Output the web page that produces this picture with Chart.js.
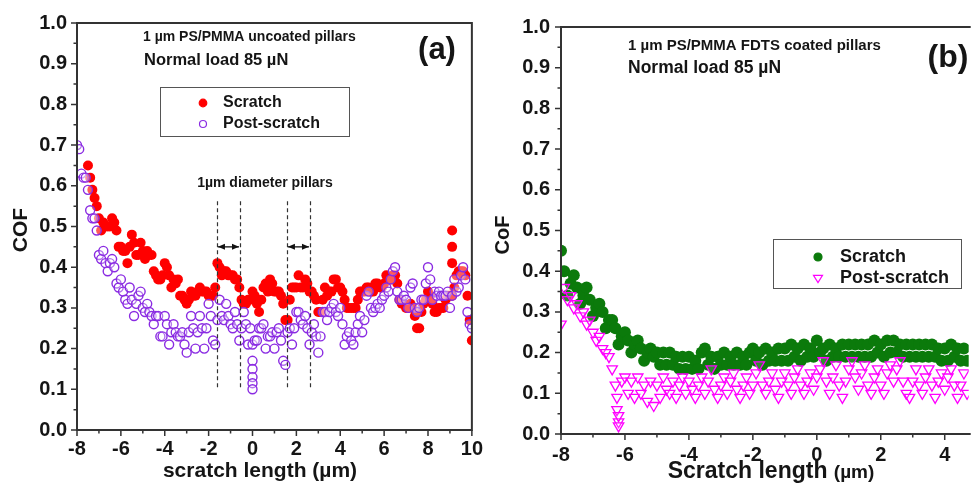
<!DOCTYPE html>
<html>
<head>
<meta charset="utf-8">
<script src="https://cdn.jsdelivr.net/npm/chart.js@4.4.1/dist/chart.umd.min.js"></script>
<style>
  html, body { margin: 0; padding: 0; background: #fff; overflow: hidden; }
  #boxA { position: absolute; left: 0; top: 0; width: 490px; height: 486px; }
  #boxB { position: absolute; left: 490px; top: 0; width: 486px; height: 486px; }
</style>
</head>
<body>
<div id="boxA"><canvas id="chartA"></canvas></div>
<div id="boxB"><canvas id="chartB"></canvas></div>
<script>
// ---- panel (a): uncoated pillars, x step 0.1 um ----
const stepA = 0.1;
const scratchStartA = -7.5;
const scratchA = [
  0.65,0.62,0.59,0.57,0.55,0.52,0.49,0.51,0.50,0.50,
  0.50,0.52,0.51,0.49,0.45,0.45,0.44,0.44,0.41,0.45,
  0.48,0.46,0.43,0.43,0.46,0.44,0.42,0.44,0.43,0.43,
  0.39,0.38,0.37,0.37,0.38,0.41,0.40,0.38,0.35,0.37,
  0.36,0.37,0.33,0.33,0.32,0.31,0.32,0.34,0.33,0.33,
  0.34,0.35,0.34,0.34,0.34,0.33,0.33,0.33,0.35,0.41,
  0.40,0.38,0.39,0.39,0.38,0.38,0.38,0.37,0.37,0.35,
  0.32,0.31,0.31,0.32,0.32,0.34,0.33,0.31,0.29,0.32,
  0.35,0.36,0.34,0.37,0.36,0.34,0.34,0.34,0.33,0.31,
  0.27,0.27,0.32,0.35,0.35,0.35,0.38,0.35,0.35,0.37,
  0.36,0.34,0.34,0.33,0.32,0.29,0.29,0.32,0.35,0.33,
  0.34,0.34,0.37,0.37,0.35,0.35,0.34,0.32,0.30,0.30,
  0.30,0.30,0.30,0.32,0.34,0.34,0.34,0.35,0.35,0.34,
  0.34,0.36,0.36,0.35,0.35,0.36,0.38,0.37,0.37,0.38,
  0.38,0.36,0.32,0.31,0.31,0.30,0.30,0.31,0.30,0.28,
  0.25,0.25,0.29,0.31,0.32,0.34,0.33,0.31,0.29,0.29,
  0.30,0.30,0.30,0.32,0.33,0.33,0.33,0.35,0.38,0.39,
  0.39,0.39,0.38,0.33,0.27,0.22
];
const scratchExtraXA = [9.1, 9.1, 9.1];
const scratchExtraYA = [0.49, 0.45, 0.41];

const postStartA = -8;
const postA = [
  0.70,0.69,0.63,0.62,0.62,0.59,0.54,0.52,0.52,0.49,
  0.43,0.42,0.44,0.41,0.39,0.41,0.42,0.40,0.36,0.35,
  0.37,0.34,0.32,0.31,0.35,0.32,0.28,0.31,0.33,0.34,
  0.30,0.29,0.31,0.29,0.28,0.26,0.28,0.28,0.23,0.23,
  0.28,0.26,0.21,0.24,0.26,0.24,0.23,0.23,0.24,0.21,
  0.19,0.24,0.28,0.25,0.20,0.24,0.28,0.25,0.20,0.25,
  0.31,0.28,0.22,0.21,0.27,0.32,0.28,0.27,0.31,0.28,
  0.26,0.25,0.29,0.26,0.22,0.25,0.29,0.26,0.21,0.25,
  0.21,0.22,0.22,0.25,0.25,0.26,0.20,0.23,0.23,0.24,
  0.20,0.24,0.25,0.22,0.17,0.16,0.24,0.25,0.21,0.25,
  0.29,0.29,0.27,0.26,0.28,0.25,0.21,0.24,0.26,0.23,
  0.19,0.23,0.29,0.29,0.27,0.29,0.30,0.31,0.29,0.28,
  0.30,0.26,0.21,0.23,0.24,0.22,0.21,0.24,0.26,0.28,
  0.24,0.27,0.33,0.34,0.30,0.29,0.30,0.31,0.30,0.32,
  0.33,0.35,0.34,0.37,0.39,0.40,0.34,0.32,0.32,0.33,
  0.32,0.30,0.35,0.36,0.30,0.29,0.30,0.32,0.32,0.36,
  0.40,0.37,0.32,0.34,0.33,0.34,0.33,0.33,0.33,0.34,
  0.30,0.33,0.37,0.34,0.35,0.38,0.40,0.37,0.29,0.26,
  0.25
];
const postExtraXA = [0, 0, 0, 0, 0];
const postExtraYA = [0.17, 0.15, 0.13, 0.115, 0.10];
const pillarEdgesA = [-1.62, -0.57, 1.57, 2.62];

// ---- panel (b): FDTS coated pillars ----
const stepB = 0.1;
const startB = -8;
const scratchB = [
  0.45,0.40,0.34,0.37,0.39,0.36,0.32,0.34,0.36,0.33,
  0.29,0.31,0.32,0.30,0.26,0.28,0.28,0.26,0.22,0.24,
  0.25,0.23,0.20,0.22,0.23,0.21,0.18,0.20,0.21,0.19,
  0.20,0.17,0.20,0.17,0.20,0.17,0.19,0.16,0.19,0.16,
  0.19,0.16,0.18,0.16,0.20,0.21,0.17,0.19,0.16,0.19,
  0.17,0.20,0.17,0.19,0.17,0.20,0.17,0.19,0.17,0.20,
  0.21,0.18,0.20,0.17,0.21,0.18,0.20,0.18,0.21,0.18,
  0.21,0.18,0.22,0.19,0.21,0.18,0.22,0.19,0.21,0.19,
  0.23,0.20,0.21,0.18,0.22,0.19,0.21,0.19,0.22,0.19,
  0.22,0.19,0.22,0.19,0.22,0.19,0.22,0.19,0.23,0.20,
  0.22,0.19,0.23,0.20,0.23,0.20,0.22,0.19,0.22,0.19,
  0.22,0.19,0.22,0.19,0.22,0.19,0.22,0.19,0.21,0.18,
  0.21,0.18,0.22,0.19,0.21,0.18,0.21,0.18
];
const postB = [
  0.27,0.36,0.33,0.34,0.31,0.32,0.29,0.30,0.27,0.28,
  0.25,0.23,0.24,0.21,0.20,0.19,0.16,0.12,0.03,0.13,
  0.14,0.10,0.13,0.09,0.14,0.10,0.12,0.08,0.13,0.07,
  0.12,0.09,0.14,0.11,0.10,0.13,0.09,0.12,0.14,0.10,
  0.13,0.11,0.09,0.12,0.14,0.10,0.13,0.16,0.11,0.09,
  0.12,0.14,0.10,0.13,0.15,0.11,0.09,0.12,0.14,0.10,
  0.12,0.15,0.17,0.12,0.10,0.13,0.15,0.11,0.09,0.13,
  0.15,0.12,0.10,0.14,0.16,0.12,0.10,0.13,0.15,0.11,
  0.14,0.16,0.18,0.13,0.10,0.14,0.17,0.12,0.09,0.13,
  0.16,0.18,0.14,0.11,0.15,0.17,0.12,0.10,0.14,0.16,
  0.12,0.10,0.15,0.17,0.13,0.16,0.18,0.13,0.10,0.09,
  0.13,0.16,0.12,0.10,0.14,0.16,0.12,0.09,0.13,0.15,
  0.11,0.14,0.16,0.12,0.09,0.12,0.15,0.10
];
const postExtraXB = [-6.25, -6.25, -6.2, -6.2];
const postExtraYB = [0.09, 0.06, 0.045, 0.02];

const FONT = '"Liberation Sans", Arial, sans-serif';
const INK = '#151515';

function toPoints(x0, step, ys, ex, ey) {
  const pts = ys.map((y, i) => ({ x: Math.round((x0 + i * step) * 100) / 100, y: y }));
  ex.forEach((x, i) => pts.push({ x: x, y: ey[i] }));
  return pts;
}

function txt(ctx, s, x, y, size, align) {
  ctx.font = 'bold ' + size + 'px ' + FONT;
  ctx.textAlign = align || 'left';
  ctx.textBaseline = 'middle';
  ctx.fillText(s, x, y);
}

// frame, minor/major ticks, labels and legend box
function deco(cfg) {
  return {
    id: 'deco',
    afterDraw(chart) {
      const { ctx, chartArea: a, scales: { x, y } } = chart;
      ctx.save();
      ctx.strokeStyle = '#333';
      ctx.lineWidth = 2;
      ctx.beginPath();
      if (cfg.fullBox) {
        ctx.rect(a.left, a.top, a.right - a.left, a.bottom - a.top);
      } else {
        ctx.moveTo(a.right + 2, a.top);
        ctx.lineTo(a.left, a.top);
        ctx.lineTo(a.left, a.bottom);
        ctx.lineTo(a.right + 2, a.bottom);
      }
      ctx.stroke();

      ctx.lineWidth = 1.5;
      ctx.beginPath();
      for (let v = Math.ceil(x.min); v <= x.max + 1e-9; v += 1) {
        const px = x.getPixelForValue(v);
        const len = Math.abs(v) % 2 === 0 ? 6 : 3.5;
        ctx.moveTo(px, a.bottom);
        ctx.lineTo(px, a.bottom + len);
      }
      for (let k = 0; k <= 20; k++) {
        const py = y.getPixelForValue(k * 0.05);
        const len = k % 2 === 0 ? 6 : 3.5;
        ctx.moveTo(a.left, py);
        ctx.lineTo(a.left - len, py);
      }
      ctx.stroke();

      ctx.fillStyle = INK;
      // axis titles
      const xt = cfg.xTitle;
      if (xt.small) {
        ctx.font = 'bold ' + xt.size + 'px ' + FONT;
        const w1 = ctx.measureText(xt.text).width;
        ctx.font = 'bold ' + xt.small.size + 'px ' + FONT;
        const w2 = ctx.measureText(xt.small.text).width;
        const x0 = xt.cx - (w1 + w2) / 2;
        txt(ctx, xt.text, x0, xt.cy, xt.size);
        txt(ctx, xt.small.text, x0 + w1, xt.cy + 1, xt.small.size);
      } else {
        txt(ctx, xt.text, xt.cx, xt.cy, xt.size, 'center');
      }
      ctx.save();
      ctx.translate(cfg.yTitle.cx, cfg.yTitle.cy);
      ctx.rotate(-Math.PI / 2);
      txt(ctx, cfg.yTitle.text, 0, 0, cfg.yTitle.size, 'center');
      ctx.restore();

      // notes
      cfg.notes.forEach(n => txt(ctx, n.text, n.x, n.y, n.size, n.align));

      // legend
      const L = cfg.legend;
      ctx.strokeStyle = '#555';
      ctx.lineWidth = 1;
      ctx.strokeRect(L.x + 0.5, L.y + 0.5, L.w, L.h);
      L.items.forEach(it => {
        ctx.save();
        ctx.strokeStyle = it.border;
        ctx.fillStyle = it.fill;
        ctx.lineWidth = 1.2;
        ctx.beginPath();
        if (it.shape === 'tri') {
          const r = it.r;
          ctx.moveTo(L.mx - r, it.y - r * 0.6);
          ctx.lineTo(L.mx + r, it.y - r * 0.6);
          ctx.lineTo(L.mx, it.y + r);
          ctx.closePath();
        } else {
          ctx.arc(L.mx, it.y, it.r, 0, Math.PI * 2);
        }
        ctx.fill();
        ctx.stroke();
        ctx.restore();
        ctx.fillStyle = INK;
        txt(ctx, it.text, L.tx, it.y, L.size);
      });

      if (cfg.extra) cfg.extra(chart);
      ctx.restore();
    }
  };
}

function pillarMarks(chart) {
  const { ctx, scales: { x, y } } = chart;
  const y0 = y.getPixelForValue(0.105), y1 = y.getPixelForValue(0.565);
  ctx.save();
  ctx.strokeStyle = '#333';
  ctx.lineWidth = 1.2;
  ctx.setLineDash([4, 3]);
  ctx.beginPath();
  pillarEdgesA.forEach(v => {
    const px = Math.round(x.getPixelForValue(v)) + 0.5;
    ctx.moveTo(px, y0);
    ctx.lineTo(px, y1);
  });
  ctx.stroke();
  ctx.setLineDash([]);
  const ay = y.getPixelForValue(0.45);
  ctx.fillStyle = '#111';
  ctx.lineWidth = 1.5;
  for (let i = 0; i < pillarEdgesA.length; i += 2) {
    const l = x.getPixelForValue(pillarEdgesA[i]) + 1;
    const r = x.getPixelForValue(pillarEdgesA[i + 1]) - 1;
    ctx.beginPath();
    ctx.moveTo(l, ay); ctx.lineTo(r, ay);
    ctx.stroke();
    ctx.beginPath();
    ctx.moveTo(l, ay); ctx.lineTo(l + 7, ay - 3); ctx.lineTo(l + 7, ay + 3); ctx.closePath();
    ctx.moveTo(r, ay); ctx.lineTo(r - 7, ay - 3); ctx.lineTo(r - 7, ay + 3); ctx.closePath();
    ctx.fill();
  }
  ctx.fillStyle = INK;
  txt(ctx, '1µm diameter pillars', x.getPixelForValue(0.57), y.getPixelForValue(0.607), 14, 'center');
  ctx.restore();
}

function axisOpts(min, max, step, width, height, pad) {
  return {
    x: {
      type: 'linear', min: min, max: max,
      grid: { display: false, drawTicks: false }, border: { display: false },
      ticks: { stepSize: step, includeBounds: false, padding: pad.x, color: INK,
               font: { family: FONT, size: 20, weight: 'bold' }, callback: v => String(v) },
      afterFit: s => { s.height = height; }
    },
    y: {
      type: 'linear', min: 0, max: 1,
      grid: { display: false, drawTicks: false }, border: { display: false },
      ticks: { stepSize: 0.1, padding: pad.y, color: INK,
               font: { family: FONT, size: 20, weight: 'bold' }, callback: v => v.toFixed(1) },
      afterFit: s => { s.width = width; }
    }
  };
}

const commonPlugins = { legend: { display: false }, tooltip: { enabled: false } };

new Chart(document.getElementById('chartA'), {
  type: 'scatter',
  data: {
    datasets: [
      {
        label: 'Scratch', order: 2,
        data: toPoints(scratchStartA, stepA, scratchA, scratchExtraXA, scratchExtraYA),
        pointRadius: 5, pointBorderWidth: 0,
        backgroundColor: '#ff0000', borderColor: '#ff0000'
      },
      {
        label: 'Post-scratch', order: 1,
        data: toPoints(postStartA, stepA, postA, postExtraXA, postExtraYA),
        pointRadius: 4.5, pointBorderWidth: 1.4,
        backgroundColor: 'rgba(255,255,255,0.35)', borderColor: '#8a2be2'
      }
    ]
  },
  options: {
    responsive: true, maintainAspectRatio: false, animation: false,
    layout: { padding: { top: 23, right: 18, left: 0, bottom: 0 } },
    scales: axisOpts(-8, 10, 2, 77, 56, { x: 7, y: 10 }),
    plugins: commonPlugins
  },
  plugins: [deco({
    fullBox: true,
    xTitle: { text: 'scratch length (µm)', cx: 260, cy: 471, size: 21 },
    yTitle: { text: 'COF', cx: 21, cy: 230, size: 21 },
    notes: [
      { text: '1 µm PS/PMMA uncoated pillars', x: 143, y: 37, size: 14 },
      { text: 'Normal load 85 µN', x: 144, y: 60, size: 16.5 },
      { text: '(a)', x: 437, y: 50, size: 31, align: 'center' }
    ],
    legend: {
      x: 160, y: 87, w: 189, h: 49, mx: 203, tx: 223, size: 16,
      items: [
        { text: 'Scratch', y: 103, r: 3.8, shape: 'circle', fill: '#ff0000', border: '#ff0000' },
        { text: 'Post-scratch', y: 124, r: 3.5, shape: 'circle', fill: '#fff', border: '#8a2be2' }
      ]
    },
    extra: pillarMarks
  })]
});

new Chart(document.getElementById('chartB'), {
  type: 'scatter',
  data: {
    datasets: [
      {
        label: 'Scratch', order: 2,
        data: toPoints(startB, stepB, scratchB, [], []),
        pointRadius: 6, pointBorderWidth: 0,
        backgroundColor: '#0b7a0b', borderColor: '#0b7a0b'
      },
      {
        label: 'Post-scratch', order: 1,
        data: toPoints(startB, stepB, postB, postExtraXB, postExtraYB),
        pointStyle: 'triangle', pointRotation: 180,
        pointRadius: 6, pointBorderWidth: 1.3,
        backgroundColor: 'rgba(255,255,255,0.15)', borderColor: '#ff00ff'
      }
    ]
  },
  options: {
    responsive: true, maintainAspectRatio: false, animation: false,
    layout: { padding: { top: 27, right: 0, left: 0, bottom: 0 } },
    scales: axisOpts(-8, 4.75, 2, 71, 52, { x: 9, y: 11 }),
    plugins: commonPlugins
  },
  plugins: [deco({
    fullBox: false,
    xTitle: { text: 'Scratch length ', cx: 281, cy: 472, size: 23, small: { text: '(µm)', size: 19 } },
    yTitle: { text: 'CoF', cx: 13, cy: 235, size: 20 },
    notes: [
      { text: '1 µm PS/PMMA FDTS coated pillars', x: 138, y: 46, size: 15 },
      { text: 'Normal load 85 µN', x: 138, y: 68, size: 17.5 },
      { text: '(b)', x: 458, y: 58, size: 32, align: 'center' }
    ],
    legend: {
      x: 283, y: 239, w: 188, h: 49, mx: 328, tx: 350, size: 18,
      items: [
        { text: 'Scratch', y: 257, r: 4, shape: 'circle', fill: '#0b7a0b', border: '#0b7a0b' },
        { text: 'Post-scratch', y: 278, r: 4.5, shape: 'tri', fill: '#fff', border: '#ff00ff' }
      ]
    }
  })]
});
</script>
</body>
</html>
